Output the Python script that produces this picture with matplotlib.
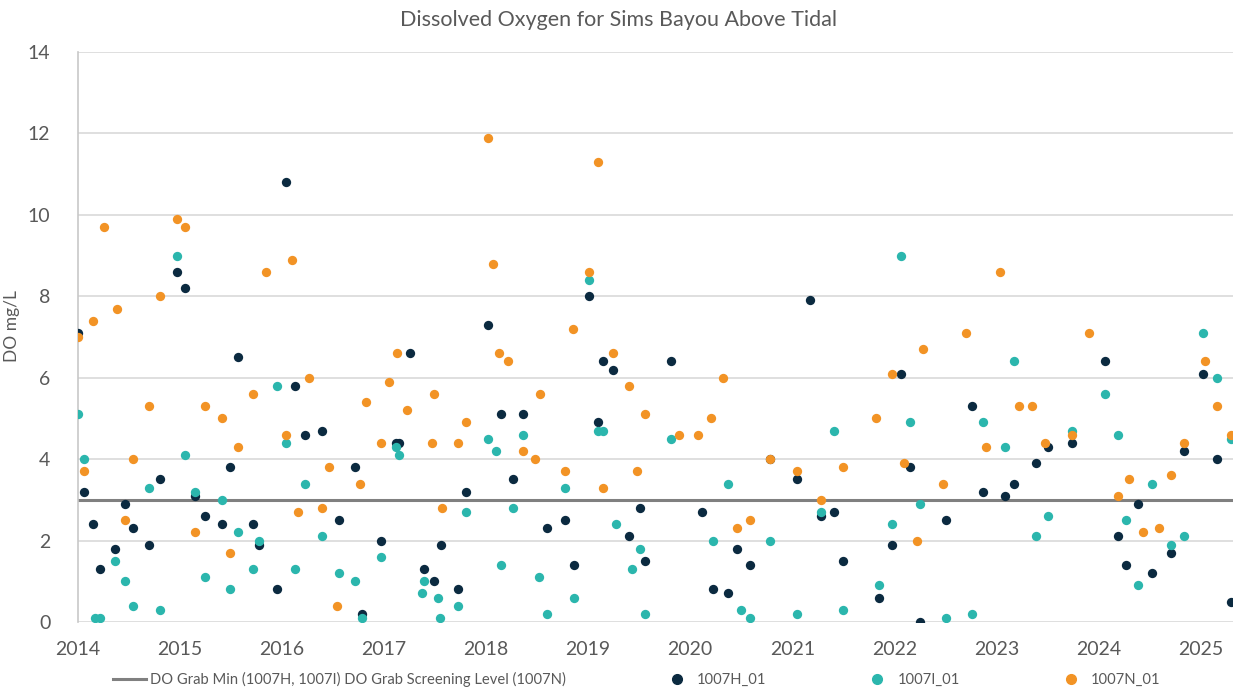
import matplotlib
matplotlib.use("Agg")
import matplotlib.pyplot as plt
from matplotlib.lines import Line2D

plt.rcParams['font.family'] = ['Lato', 'DejaVu Sans']

# sample dates as decimal years, DO in mg/L
h_dates = [2014.00, 2014.06, 2014.15, 2014.22, 2014.36, 2014.46, 2014.54, 2014.70, 2014.80, 2014.97,
           2015.05, 2015.15, 2015.24, 2015.41, 2015.49, 2015.57, 2015.71, 2015.77, 2015.95, 2016.04,
           2016.13, 2016.22, 2016.39, 2016.56, 2016.71, 2016.78, 2016.97, 2017.12, 2017.15, 2017.25,
           2017.39, 2017.49, 2017.56, 2017.72, 2017.80, 2018.02, 2018.15, 2018.26, 2018.36, 2018.60,
           2018.77, 2018.86, 2019.01, 2019.10, 2019.15, 2019.24, 2019.40, 2019.51, 2019.56, 2019.81,
           2020.12, 2020.22, 2020.37, 2020.46, 2020.59, 2020.78, 2021.05, 2021.17, 2021.28, 2021.41,
           2021.50, 2021.85, 2021.98, 2022.07, 2022.15, 2022.25, 2022.51, 2022.76, 2022.87, 2023.09,
           2023.17, 2023.39, 2023.51, 2023.74, 2024.07, 2024.19, 2024.27, 2024.39, 2024.53, 2024.71,
           2024.84, 2025.03, 2025.16, 2025.30]
h_do = [7.1, 3.2, 2.4, 1.3, 1.8, 2.9, 2.3, 1.9, 3.5, 8.6,
        8.2, 3.1, 2.6, 2.4, 3.8, 6.5, 2.4, 1.9, 0.8, 10.8,
        5.8, 4.6, 4.7, 2.5, 3.8, 0.2, 2.0, 4.4, 4.4, 6.6,
        1.3, 1.0, 1.9, 0.8, 3.2, 7.3, 5.1, 3.5, 5.1, 2.3,
        2.5, 1.4, 8.0, 4.9, 6.4, 6.2, 2.1, 2.8, 1.5, 6.4,
        2.7, 0.8, 0.7, 1.8, 1.4, 4.0, 3.5, 7.9, 2.6, 2.7,
        1.5, 0.6, 1.9, 6.1, 3.8, 0.0, 2.5, 5.3, 3.2, 3.1,
        3.4, 3.9, 4.3, 4.4, 6.4, 2.1, 1.4, 2.9, 1.2, 1.7,
        4.2, 6.1, 4.0, 0.5]

i_dates = [2014.00, 2014.06, 2014.17, 2014.22, 2014.36, 2014.46, 2014.54, 2014.70, 2014.80, 2014.97,
           2015.05, 2015.15, 2015.24, 2015.41, 2015.49, 2015.57, 2015.71, 2015.77, 2015.95, 2016.04,
           2016.13, 2016.22, 2016.39, 2016.56, 2016.71, 2016.78, 2016.97, 2017.12, 2017.15, 2017.37,
           2017.39, 2017.53, 2017.55, 2017.72, 2017.80, 2018.02, 2018.10, 2018.15, 2018.26, 2018.36,
           2018.52, 2018.60, 2018.77, 2018.86, 2019.01, 2019.10, 2019.15, 2019.27, 2019.43, 2019.51,
           2019.56, 2019.81, 2020.22, 2020.37, 2020.50, 2020.59, 2020.78, 2021.05, 2021.28, 2021.41,
           2021.50, 2021.85, 2021.98, 2022.07, 2022.15, 2022.25, 2022.51, 2022.76, 2022.87, 2023.09,
           2023.17, 2023.39, 2023.51, 2023.74, 2024.07, 2024.19, 2024.27, 2024.39, 2024.53, 2024.71,
           2024.84, 2025.03, 2025.16, 2025.30]
i_do = [5.1, 4.0, 0.1, 0.1, 1.5, 1.0, 0.4, 3.3, 0.3, 9.0,
        4.1, 3.2, 1.1, 3.0, 0.8, 2.2, 1.3, 2.0, 5.8, 4.4,
        1.3, 3.4, 2.1, 1.2, 1.0, 0.1, 1.6, 4.3, 4.1, 0.7,
        1.0, 0.6, 0.1, 0.4, 2.7, 4.5, 4.2, 1.4, 2.8, 4.6,
        1.1, 0.2, 3.3, 0.6, 8.4, 4.7, 4.7, 2.4, 1.3, 1.8,
        0.2, 4.5, 2.0, 3.4, 0.3, 0.1, 2.0, 0.2, 2.7, 4.7,
        0.3, 0.9, 2.4, 9.0, 4.9, 2.9, 0.1, 0.2, 4.9, 4.3,
        6.4, 2.1, 2.6, 4.7, 5.6, 4.6, 2.5, 0.9, 3.4, 1.9,
        2.1, 7.1, 6.0, 4.5]

n_dates = [2014.00, 2014.06, 2014.15, 2014.25, 2014.38, 2014.46, 2014.54, 2014.70, 2014.80, 2014.97,
           2015.05, 2015.15, 2015.24, 2015.41, 2015.49, 2015.57, 2015.71, 2015.84, 2016.04, 2016.10,
           2016.16, 2016.26, 2016.39, 2016.46, 2016.54, 2016.76, 2016.82, 2016.97, 2017.05, 2017.13,
           2017.22, 2017.47, 2017.49, 2017.57, 2017.72, 2017.80, 2018.02, 2018.07, 2018.13, 2018.21,
           2018.36, 2018.48, 2018.53, 2018.77, 2018.85, 2019.01, 2019.10, 2019.15, 2019.24, 2019.40,
           2019.48, 2019.56, 2019.89, 2020.08, 2020.20, 2020.32, 2020.46, 2020.59, 2020.78, 2021.05,
           2021.28, 2021.50, 2021.82, 2021.98, 2022.10, 2022.22, 2022.28, 2022.48, 2022.70, 2022.90,
           2023.04, 2023.22, 2023.35, 2023.48, 2023.74, 2023.91, 2024.19, 2024.30, 2024.44, 2024.59,
           2024.71, 2024.84, 2025.05, 2025.16, 2025.30]
n_do = [7.0, 3.7, 7.4, 9.7, 7.7, 2.5, 4.0, 5.3, 8.0, 9.9,
        9.7, 2.2, 5.3, 5.0, 1.7, 4.3, 5.6, 8.6, 4.6, 8.9,
        2.7, 6.0, 2.8, 3.8, 0.4, 3.4, 5.4, 4.4, 5.9, 6.6,
        5.2, 4.4, 5.6, 2.8, 4.4, 4.9, 11.9, 8.8, 6.6, 6.4,
        4.2, 4.0, 5.6, 3.7, 7.2, 8.6, 11.3, 3.3, 6.6, 5.8,
        3.7, 5.1, 4.6, 4.6, 5.0, 6.0, 2.3, 2.5, 4.0, 3.7,
        3.0, 3.8, 5.0, 6.1, 3.9, 2.0, 6.7, 3.4, 7.1, 4.3,
        8.6, 5.3, 5.3, 4.4, 4.6, 7.1, 3.1, 3.5, 2.2, 2.3,
        3.6, 4.4, 6.4, 5.3, 4.6]

screening_level = 3.0
years = list(range(2014, 2026))
y_ticks = [0, 2, 4, 6, 8, 10, 12, 14]

navy = '#0b2a40'
teal = '#2bb6ad'
orange = '#f29325'
grey_text = '#595959'

fig = plt.figure(figsize=(12.33, 6.91), dpi=100)
ax = fig.add_axes([0.0633, 0.0999, 0.9367, 0.8248])

for yv in y_ticks:
    ax.axhline(yv, color='#d9d9d9', linewidth=1.2, zorder=0)
ax.axhline(screening_level, color='#808080', linewidth=2.2, zorder=1)

ms = 45
ax.scatter(h_dates, h_do, s=ms, color=navy, linewidths=0, zorder=3)
ax.scatter(i_dates, i_do, s=ms, color=teal, linewidths=0, zorder=3)
ax.scatter(n_dates, n_do, s=ms, color=orange, linewidths=0, zorder=3)

ax.set_xlim(2014, 2025.32)
ax.set_ylim(0, 14)
ax.set_xticks(years)
ax.set_yticks(y_ticks)
ax.tick_params(length=0, labelsize=14, colors=grey_text)
ax.tick_params(axis='y', pad=20)
ax.tick_params(axis='x', pad=14)
for s in ['top', 'right', 'bottom']:
    ax.spines[s].set_visible(False)
ax.spines['left'].set_color('#c8c8c8')
ax.spines['left'].set_linewidth(1.2)

ax.set_ylabel('DO mg/L', fontsize=12.5, color=grey_text)
ax.yaxis.set_label_coords(-0.05, 0.52)
fig.suptitle('Dissolved Oxygen for Sims Bayou Above Tidal', x=0.502, y=0.985,
             fontsize=15.5, color=grey_text)

handles = [
    Line2D([], [], color='#808080', linewidth=2.2),
    Line2D([], [], marker='o', linestyle='', color=navy, markersize=7),
    Line2D([], [], marker='o', linestyle='', color=teal, markersize=7),
    Line2D([], [], marker='o', linestyle='', color=orange, markersize=7),
]
labels = ['DO Grab Min (1007H, 1007I) DO Grab Screening Level (1007N)',
          '1007H_01', '1007I_01', '1007N_01']
leg = fig.legend(handles, labels, loc='lower left', bbox_to_anchor=(0.081, -0.013),
                 ncol=4, frameon=False, fontsize=10.6, handlelength=2.24,
                 handletextpad=0.27, columnspacing=6.4)
for t in leg.get_texts():
    t.set_color(grey_text)

fig.savefig('out.png', dpi=100)
